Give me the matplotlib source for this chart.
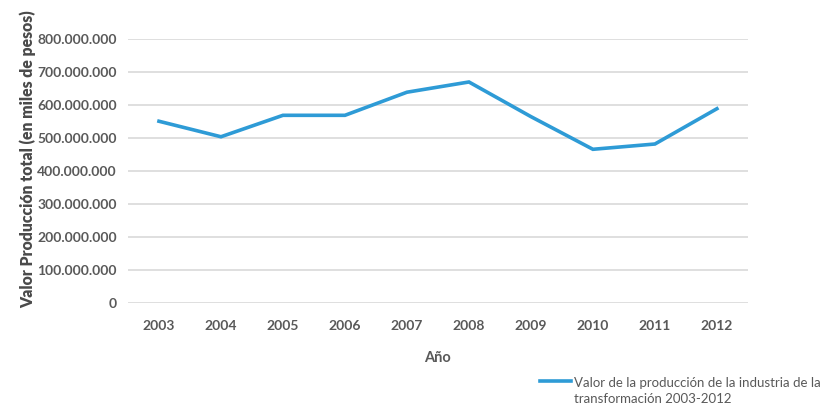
import matplotlib.pyplot as plt
from matplotlib.ticker import FuncFormatter

years = ["2003", "2004", "2005", "2006", "2007", "2008", "2009", "2010", "2011", "2012"]
valor = [551e6, 504e6, 569e6, 569e6, 639e6, 670e6, 565e6, 466e6, 482e6, 589e6]
yticks = [0, 100e6, 200e6, 300e6, 400e6, 500e6, 600e6, 700e6, 800e6]

plt.rcParams["font.family"] = ["Lato", "DejaVu Sans"]
TXT = "#595959"
BLUE = "#2e9bd6"

fig = plt.figure(figsize=(8.31, 4.03), dpi=100)
ax = fig.add_axes([0.154, 0.248, 0.746, 0.655])

x = range(len(years))
ax.plot(x, valor, color=BLUE, linewidth=2.6, solid_joinstyle="miter",
        label="Valor de la producción de la industria de la\ntransformación 2003-2012")

ax.set_xlim(-0.5, len(years) - 0.5)
ax.set_ylim(0, 800e6)
ax.set_yticks(yticks)
ax.yaxis.set_major_formatter(FuncFormatter(lambda v, p: f"{int(v):,}".replace(",", ".")))
ax.set_xticks(list(x))
ax.set_xticklabels(years)

for lab in ax.get_xticklabels() + ax.get_yticklabels():
    lab.set_fontweight("bold")
    lab.set_fontsize(10)
    lab.set_color(TXT)
ax.tick_params(axis="both", length=0)
ax.tick_params(axis="y", pad=8)
ax.tick_params(axis="x", pad=12)

ax.grid(True, axis="y", color="#d9d9d9", linewidth=1.2)
ax.set_axisbelow(True)
for s in ax.spines.values():
    s.set_visible(False)

ax.set_xlabel("Año", fontsize=10.5, fontweight="bold", color=TXT, labelpad=14)
ax.set_ylabel("Valor Producción total (en miles de pesos)", fontsize=11.3,
              fontweight="heavy", color="#4a4a4a")
ax.yaxis.set_label_coords(-0.148, 0.545)

leg = fig.legend(loc="upper left", bbox_to_anchor=(0.635, 0.095),
                 frameon=False, fontsize=9.5, handlelength=2.4, handletextpad=0.2,
                 labelcolor=TXT)
for t in leg.get_texts():
    t.set_linespacing(1.4)
# keep the line next to the first text line, as in the original
for row in leg._legend_handle_box.get_children():
    for item in row.get_children():
        item.align = "top"

fig.savefig("out.png", dpi=100)
